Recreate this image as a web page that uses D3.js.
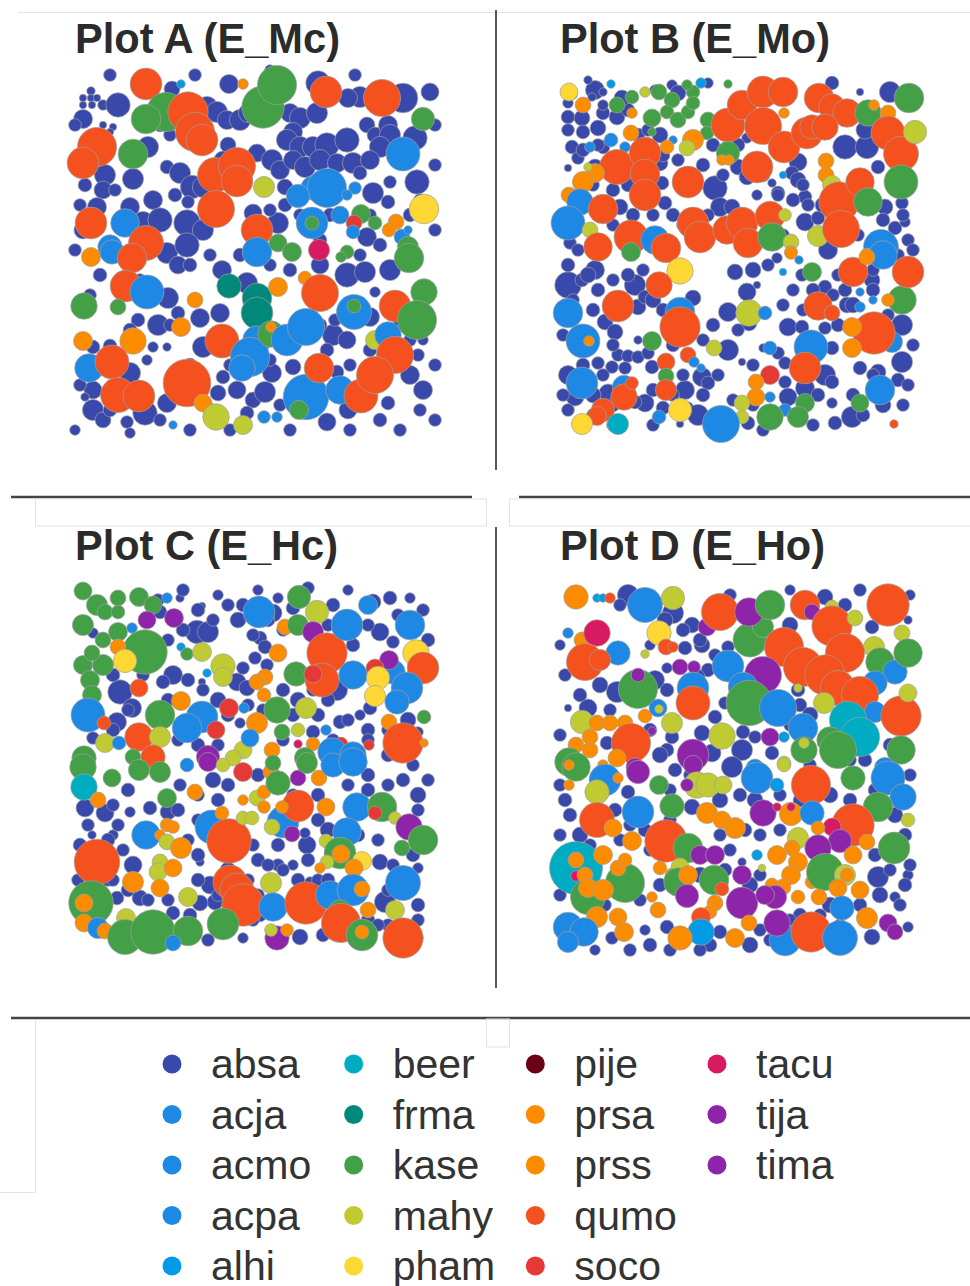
<!DOCTYPE html>
<html><head><meta charset="utf-8">
<script src="https://cdn.jsdelivr.net/npm/d3@7"></script>
<style>html,body{margin:0;padding:0;background:#fff}</style>
</head><body>
<svg id="chart" width="970" height="1286"></svg>
<script>
// Species and their map colours (legend order, column by column)
const species = ["absa","acja","acmo","acpa","alhi","beer","frma","kase","mahy","pham","pije","prsa","prss","qumo","soco","tacu","tija","tima"];
const speciesColors = ["#3949AB","#1E88E5","#1E88E5","#1E88E5","#039BE5","#00ACC1","#00897B","#43A047","#C0CA33","#FDD835","#6B0015","#FB8C00","#FB8C00","#F4511E","#E53935","#D81B60","#8E24AA","#8E24AA"];
const plotTitles = ["Plot A (E_Mc)","Plot B (E_Mo)","Plot C (E_Hc)","Plot D (E_Ho)"];

// Stem maps: positions in decimetres inside each plot, stem diameter (d)
// Abies (absa) understorey stems: [x, y, d]
const plotA_absa = [[159,19,18],[102,24,15],[248,18,23],[290,32,20],[278,33,18],[333,33,28],[360,27,17],[21,26,8],[13,33,7],[21,33,7],[27,33,7],[13,40,7],[22,40,7],[33,40,10],[48,40,23],[13,54,18],[137,42,20],[147,47,20],[157,55,18],[170,55,20],[178,48,18],[220,48,18],[230,53,20],[247,48,20],[223,67,18],[217,75,20],[230,82,20],[243,82,20],[257,80,23],[277,75,23],[297,60,15],[305,70,15],[318,60,18],[320,70,20],[310,82,20],[345,73,23],[78,82,20],[43,62,7],[33,60,7],[40,67,7],[35,110,20],[33,125,17],[63,114,20],[97,102,13],[110,108,20],[122,122,22],[133,122,20],[158,80,15],[153,95,17],[187,88,17],[202,95,20],[210,105,18],[223,95,18],[235,102,20],[250,95,20],[267,98,18],[283,98,20],[300,95,18],[290,108,13],[347,117,23],[320,117,12],[215,122,15],[303,128,20],[318,137,13],[60,142,18],[83,135,18],[105,130,13],[118,137,12],[27,142,18],[13,165,17],[73,157,20],[90,155,23],[117,158,25],[133,165,20],[208,158,20],[183,148,17],[297,172,18],[97,188,20],[117,180,23],[108,200,17],[98,233,20],[152,205,18],[177,218,20],[250,200,17],[277,210,23],[295,207,20],[320,205,20],[305,227,10],[300,252,18],[68,255,13],[88,260,20],[108,248,13],[130,253,18],[150,248,18],[133,282,20],[263,270,20],[277,275,17],[348,290,12],[353,275,10],[23,282,13],[40,281,13],[83,282,10],[97,282,8],[23,325,17],[23,345,20],[15,332,8],[60,308,20],[77,295,10],[75,348,23],[57,357,12],[33,355,15],[97,338,18],[153,312,13],[148,328,15],[167,325,17],[183,335,15],[202,308,18],[195,327,20],[223,302,15],[257,285,13],[267,307,13],[318,338,13],[340,310,18],[353,325,18],[257,357,17],[278,345,17],[177,348,13],[15,120,13],[10,140,12],[45,125,12],[90,60,13],[100,70,12],[200,145,12],[215,140,13],[230,150,12],[260,150,13],[300,150,12],[340,150,13],[350,135,12],[310,180,13],[290,190,12],[250,175,13],[120,200,13],[140,190,12],[170,190,13],[200,200,12],[220,205,13],[70,215,12],[30,210,13],[20,230,12],[100,260,12],[60,265,13],[120,300,13],[160,300,12],[200,295,12],[250,260,13],[265,255,12],[330,260,13],[340,275,12],[300,285,13],[280,300,12],[210,340,12],[140,345,13],[90,355,12],[40,345,13],[10,320,12],[15,300,13],[350,345,12],[310,355,13],[5,60,12],[5,185,12],[40,10,12],[125,10,12],[200,5,10],[285,10,12],[365,60,12],[365,100,12],[365,165,12],[365,300,12],[365,355,12],[5,365,10],[60,368,10],[120,365,12],[160,365,12],[220,365,12],[280,365,12],[330,365,12]];
const plotB_absa = [[42,15,18],[15,28,10],[15,42,13],[29,43,15],[15,55,12],[30,57,13],[45,53,15],[50,38,13],[64,42,15],[75,35,13],[19,72,13],[25,83,12],[15,93,7],[50,72,13],[39,22,8],[50,17,8],[102,15,10],[119,10,10],[125,18,15],[155,8,10],[69,23,15],[107,60,15],[194,63,10],[304,38,13],[337,17,20],[307,17,7],[279,8,13],[292,72,23],[314,72,22],[312,55,17],[185,92,15],[194,102,15],[245,87,17],[239,98,13],[107,88,15],[109,108,13],[42,92,15],[67,132,15],[112,128,13],[162,113,23],[167,132,18],[179,132,15],[204,120,10],[219,108,8],[225,118,13],[245,105,15],[252,122,13],[332,132,15],[349,128,12],[325,92,13],[252,147,17],[265,143,13],[275,175,18],[342,153,13],[355,165,12],[352,147,10],[17,168,12],[15,210,25],[29,205,13],[42,195,18],[82,210,20],[52,247,15],[85,232,15],[92,222,13],[140,223,15],[62,257,15],[85,265,8],[65,280,12],[75,281,12],[85,282,12],[95,278,12],[99,292,13],[72,293,12],[59,292,12],[45,288,12],[15,300,18],[22,322,17],[55,318,17],[92,328,17],[132,315,18],[149,302,18],[155,308,13],[135,332,10],[110,333,13],[127,349,7],[82,327,13],[175,275,20],[189,287,7],[175,237,18],[196,248,15],[182,197,15],[200,195,15],[194,217,17],[204,210,7],[224,183,10],[272,212,13],[249,200,12],[235,252,17],[249,252,13],[272,253,12],[279,273,13],[210,273,8],[225,278,12],[232,288,12],[272,300,20],[279,307,13],[232,307,12],[235,322,17],[252,313,18],[145,340,20],[195,348,13],[279,328,10],[282,348,13],[299,342,20],[307,293,13],[349,287,20],[325,297,15],[349,250,20],[294,230,15],[319,205,15],[292,215,13],[15,190,13],[25,175,12],[35,200,15],[45,215,13],[20,225,12],[40,235,13],[60,205,12],[75,200,13],[90,195,12],[100,225,15],[110,235,13],[60,270,12],[30,290,13],[50,300,12],[40,320,15],[60,330,13],[10,260,12],[240,215,12],[260,215,13],[280,220,12],[285,250,13],[300,230,15],[320,215,13],[335,240,12],[345,305,13],[330,330,15],[350,330,12],[300,320,13],[320,300,12],[265,320,13],[200,290,12],[150,320,13],[120,320,12],[100,315,13],[40,340,12],[225,120,12],[240,125,13],[255,130,12],[270,130,15],[160,70,13],[170,100,12],[185,70,13],[155,140,12],[130,150,12],[250,110,12],[210,100,13],[330,145,13],[305,160,12],[230,160,12],[350,140,12],[120,140,13],[100,140,12],[80,140,13],[60,150,12],[85,60,13],[95,55,12],[110,80,13],[125,85,12],[150,90,13],[75,110,13],[30,75,13],[45,70,12],[40,110,12],[60,115,13],[20,20,8],[35,5,8],[30,30,10],[50,30,10],[185,255,12],[160,250,13],[140,255,12],[150,265,12],[120,270,13],[60,240,12],[70,225,12],[215,190,12],[230,230,12],[250,235,12],[285,200,12],[320,195,12],[345,180,12],[360,175,12],[360,270,12],[355,310,12],[310,340,13],[260,350,12],[210,355,12],[180,325,12],[165,300,12],[130,300,12],[60,350,12],[15,335,12],[10,320,12],[100,350,12],[240,340,12],[200,330,12]];
const plotC_absa = [[112,18,8],[134,26,7],[92,32,13],[25,53,10],[129,52,22],[140,52,20],[105,95,18],[95,102,13],[134,102,7],[169,102,17],[179,108,15],[175,88,12],[205,33,17],[175,25,13],[210,18,10],[225,28,13],[192,58,13],[197,67,13],[187,78,12],[199,85,12],[265,25,13],[305,22,15],[322,18,13],[342,18,10],[312,52,17],[325,62,12],[285,65,13],[269,110,20],[292,135,10],[302,128,13],[272,142,13],[350,152,10],[52,112,23],[64,128,18],[49,142,18],[25,158,12],[225,135,13],[172,143,10],[245,152,13],[17,228,17],[37,233,17],[112,205,12],[100,232,15],[82,228,13],[62,232,10],[45,255,10],[24,255,8],[65,285,17],[132,282,8],[142,305,17],[147,322,15],[210,265,13],[239,265,17],[312,282,15],[350,288,10],[317,322,20],[350,358,10],[175,358,10],[232,357,15],[192,335,13],[132,323,15],[122,335,13],[12,265,13],[49,318,13],[72,318,15],[105,333,13],[242,302,10],[225,285,10],[237,253,10],[130,30,13],[145,40,12],[170,40,15],[185,55,12],[120,100,13],[135,110,12],[150,120,15],[160,135,13],[180,125,12],[200,40,13],[215,50,12],[175,190,13],[145,200,15],[130,215,12],[110,230,13],[150,220,13],[190,195,13],[230,235,12],[250,240,13],[260,250,15],[290,255,13],[310,260,12],[300,210,13],[320,205,12],[335,200,13],[350,215,15],[350,230,12],[340,140,15],[320,150,12],[300,150,13],[280,140,12],[260,120,13],[245,110,12],[230,120,15],[215,110,13],[160,290,15],[130,300,13],[150,315,12],[40,260,13],[50,245,12],[25,300,13],[40,300,12],[60,310,13],[80,320,12],[120,260,12],[190,280,13],[210,285,12],[230,300,13],[250,300,12],[260,300,13],[190,315,12],[300,340,13],[320,345,12],[350,325,13],[350,340,12],[90,20,12],[25,140,12],[45,150,13],[115,10,12],[150,15,10],[160,25,12],[190,10,10],[240,8,12],[280,10,10],[330,35,12],[355,30,12],[360,60,13],[300,45,12],[260,45,12],[100,60,12],[115,50,13],[90,80,12],[75,95,12],[45,95,13],[60,130,12],[100,120,13],[110,160,12],[130,165,13],[150,165,12],[195,130,12],[215,160,12],[250,135,13],[265,160,12],[300,160,12],[320,175,13],[345,185,12],[360,200,12],[300,195,13],[280,205,12],[250,215,13],[225,215,12],[160,205,13],[130,240,12],[60,210,13],[45,225,12],[20,245,12],[55,270,12],[130,275,13],[185,265,12],[215,290,12],[240,280,13],[325,285,12],[345,275,13],[320,310,12],[310,345,12],[255,355,13],[185,340,12],[140,360,12],[100,320,12],[45,300,12],[10,300,12],[180,300,12],[200,285,12]];
const plotD_absa = [[78,10,20],[123,28,20],[142,40,15],[275,12,15],[295,20,13],[358,35,8],[133,45,13],[152,60,15],[135,63,13],[178,62,12],[322,42,13],[158,85,13],[147,92,15],[117,83,10],[105,95,18],[67,107,20],[117,105,13],[248,105,13],[175,118,12],[165,132,13],[18,123,7],[38,123,17],[57,158,13],[122,152,13],[152,148,15],[193,147,13],[205,152,12],[117,165,13],[162,168,17],[192,165,20],[222,168,13],[182,182,17],[315,175,13],[15,215,13],[78,207,13],[182,182,20],[325,205,13],[142,222,15],[192,277,8],[328,292,20],[358,290,10],[345,312,10],[322,352,15],[95,345,10],[62,353,12],[117,342,13],[170,347,13],[358,342,10],[115,35,15],[150,55,13],[165,70,12],[100,60,10],[240,40,15],[250,120,13],[240,140,12],[260,130,15],[300,120,13],[320,150,15],[340,160,13],[30,110,13],[50,100,15],[60,125,12],[100,145,13],[110,170,15],[125,185,13],[140,190,12],[170,215,15],[190,210,13],[205,215,15],[230,210,12],[250,215,13],[280,210,15],[300,215,13],[345,230,15],[355,250,13],[20,230,13],[30,250,15],[40,260,12],[95,245,13],[100,265,12],[110,300,13],[150,290,15],[175,285,13],[200,300,15],[210,290,12],[250,330,13],[280,320,15],[310,320,13],[330,310,15],[350,320,12],[160,360,13],[200,360,15],[220,355,12],[100,360,13],[45,365,10],[120,205,12],[195,245,13],[210,250,12],[325,270,13],[340,285,12],[355,300,13],[65,225,13],[80,240,12],[10,60,10],[15,90,12],[10,150,12],[10,200,12],[10,250,12],[10,310,12],[70,20,12],[180,10,12],[240,5,10],[310,5,12],[360,10,10],[360,190,12],[360,280,12],[290,340,12],[270,330,12],[240,335,12],[210,345,12],[150,365,12],[120,365,12],[80,365,12],[55,320,12],[90,315,12],[180,265,12],[230,245,12],[260,180,12],[300,175,12],[170,250,12],[120,235,12],[70,255,12]];

// Canopy and other species: [species, x, y, d]
const plotA_other = [["qumo",76,19,30],["prsa",173,19,10],["alhi",111,19,8],["kase",193,42,40],["kase",207,20,37],["qumo",256,27,30],["qumo",312,33,35],["kase",353,54,22],["kase",96,47,37],["kase",76,54,28],["qumo",118,47,38],["qumo",125,67,37],["qumo",132,75,30],["acja",333,89,32],["qumo",27,82,37],["qumo",13,98,30],["kase",63,89,28],["qumo",145,110,33],["qumo",167,101,35],["qumo",167,116,30],["qumo",146,144,35],["mahy",194,122,20],["acja",243,123,23],["acja",257,123,37],["acja",228,131,22],["acja",285,123,12],["acja",277,130,10],["pham",354,144,28],["qumo",21,158,30],["acja",55,158,27],["qumo",187,165,30],["acja",242,158,30],["kase",242,158,13],["acja",270,150,17],["kase",291,149,18],["soco",284,158,15],["kase",305,158,13],["acja",283,167,13],["prsa",326,157,15],["prsa",319,165,13],["acja",332,172,15],["acja",338,165,8],["kase",338,182,20],["tacu",249,185,20],["acja",40,182,23],["qumo",76,178,33],["acja",187,187,28],["kase",208,178,17],["kase",222,187,18],["kase",277,187,13],["kase",271,192,10],["prsa",21,192,18],["acja",42,187,23],["qumo",62,193,28],["qumo",56,221,30],["acja",77,227,32],["kase",14,241,25],["kase",48,242,15],["prsa",125,235,15],["frma",159,221,23],["frma",187,233,28],["frma",187,248,30],["prsa",208,222,18],["prsa",235,213,13],["qumo",250,228,35],["kase",339,193,28],["kase",354,227,25],["acja",284,247,33],["kase",284,241,13],["qumo",325,241,30],["kase",347,255,37],["prsa",111,262,18],["qumo",152,276,32],["acja",187,275,27],["acja",180,292,37],["acja",172,303,25],["kase",201,269,25],["prsa",201,262,10],["acja",217,275,30],["acja",236,262,35],["mahy",305,275,18],["acja",318,270,25],["qumo",325,290,35],["prsa",13,276,18],["prsa",63,276,25],["acja",19,303,27],["qumo",42,297,32],["qumo",48,330,33],["qumo",69,331,30],["qumo",117,318,45],["prsa",133,338,17],["mahy",146,352,25],["mahy",173,360,18],["acja",194,352,12],["acja",207,352,10],["acja",103,360,8],["acja",236,332,43],["kase",229,345,18],["qumo",249,303,28],["acja",270,325,27],["qumo",291,331,32],["qumo",305,310,35]];
const plotB_other = [["pham",16,17,17],["alhi",58,9,8],["prsa",30,30,15],["kase",64,30,15],["kase",79,22,13],["mahy",92,17,10],["kase",106,17,15],["kase",140,17,13],["kase",134,10,10],["alhi",148,8,10],["kase",175,9,8],["kase",119,25,15],["kase",99,43,17],["kase",114,37,13],["kase",125,45,15],["kase",135,37,13],["kase",140,28,13],["kase",155,45,15],["kase",154,58,13],["prsa",79,38,10],["kase",99,57,8],["prsa",78,58,15],["acja",58,65,13],["acja",37,72,10],["acja",72,72,10],["acja",120,65,8],["prsa",140,65,20],["mahy",134,73,15],["prsa",114,72,13],["qumo",175,50,32],["qumo",189,30,28],["qumo",210,17,30],["qumo",230,17,28],["qumo",210,51,35],["qumo",231,72,30],["qumo",266,23,28],["qumo",279,32,25],["qumo",294,38,27],["qumo",254,58,30],["qumo",259,52,23],["qumo",272,52,25],["prsa",231,38,10],["kase",315,38,25],["prsa",321,30,10],["prsa",335,38,15],["kase",356,23,28],["qumo",335,58,32],["qumo",348,79,33],["mahy",362,57,22],["kase",348,107,32],["kase",175,78,22],["prsa",169,85,10],["prsa",176,85,10],["qumo",204,92,30],["prsa",273,86,15],["prsa",273,100,15],["alhi",230,100,7],["qumo",64,92,33],["qumo",92,78,30],["qumo",92,99,28],["qumo",92,120,30],["qumo",135,107,30],["prsa",42,98,18],["prsa",30,107,20],["mahy",35,92,8],["prsa",16,120,15],["acja",27,127,25],["acja",15,148,32],["qumo",50,134,28],["mahy",279,110,18],["qumo",286,127,38],["qumo",307,107,27],["kase",315,127,27],["qumo",140,148,30],["qumo",147,162,30],["qumo",174,155,27],["qumo",189,148,30],["qumo",217,141,28],["qumo",195,168,28],["kase",219,162,27],["mahy",232,140,12],["mahy",238,167,15],["prsa",238,177,12],["mahy",265,161,20],["qumo",288,154,35],["acja",328,172,33],["prsa",314,180,13],["mahy",37,155,15],["qumo",45,172,27],["qumo",78,162,32],["acja",102,165,27],["qumo",113,173,28],["kase",78,177,18],["pham",127,196,25],["qumo",106,210,25],["acja",15,238,28],["qumo",65,231,30],["acja",127,237,28],["qumo",127,252,38],["acja",30,266,32],["prsa",36,266,10],["kase",99,266,18],["qumo",113,287,17],["qumo",135,280,15],["acja",141,287,10],["acja",148,293,8],["kase",113,301,15],["qumo",113,315,20],["acja",29,308,30],["acja",71,312,22],["qumo",71,322,25],["qumo",79,308,12],["pham",127,335,22],["acja",106,342,13],["qumo",50,335,22],["qumo",44,341,18],["pham",29,349,20],["beer",65,349,20],["mahy",161,273,15],["mahy",196,238,25],["acja",212,238,13],["prsa",238,178,12],["acja",246,185,8],["alhi",230,197,7],["kase",259,197,18],["qumo",265,231,27],["qumo",279,238,15],["acja",258,272,32],["acja",217,273,13],["qumo",252,293,30],["soco",217,300,18],["prsa",203,307,15],["prsa",203,322,17],["acja",217,322,10],["kase",252,328,18],["acja",232,335,12],["kase",217,342,25],["kase",245,342,20],["mahy",189,328,15],["mahy",189,342,13],["acja",168,349,35],["kase",307,328,17],["acja",327,315,28],["qumo",341,349,8],["acja",339,267,20],["qumo",321,258,40],["prsa",299,252,18],["prsa",299,273,18],["kase",349,225,27],["prsa",335,225,12],["acja",320,225,8],["acja",307,217,8],["acja",307,232,10],["qumo",300,197,28],["qumo",355,197,30],["acja",330,180,27],["prsa",314,182,15]];
const plotC_other = [["kase",15,11,17],["kase",29,25,20],["kase",50,18,15],["kase",71,17,18],["kase",85,25,17],["kase",37,32,15],["kase",50,32,13],["kase",15,45,20],["kase",35,60,15],["kase",50,52,18],["tija",79,40,17],["tija",106,38,18],["acja",99,18,10],["acja",64,48,10],["kase",77,72,42],["prsa",50,67,15],["pham",57,81,22],["kase",15,85,18],["kase",35,85,20],["kase",24,73,15],["kase",22,100,18],["kase",24,115,18],["qumo",71,108,17],["alhi",113,67,8],["kase",119,74,12],["mahy",134,72,18],["mahy",155,86,23],["mahy",155,97,18],["alhi",139,93,8],["acja",191,32,30],["kase",231,17,22],["mahy",249,32,22],["prsa",217,47,15],["kase",230,45,20],["tija",245,52,20],["prsa",210,73,17],["kase",228,94,23],["qumo",259,73,38],["qumo",254,100,32],["soco",245,94,17],["prsa",197,97,15],["prsa",189,102,15],["prsa",196,115,13],["acja",279,45,30],["acja",300,25,18],["acja",342,45,28],["acja",325,92,23],["acja",285,95,27],["pham",348,73,25],["qumo",355,88,30],["tija",321,80,18],["soco",307,88,17],["pham",310,98,22],["pham",307,116,20],["acja",339,108,30],["acja",329,122,23],["kase",356,137,13],["prsa",321,142,15],["qumo",335,163,38],["acja",20,135,32],["kase",92,135,28],["prsa",113,121,18],["acja",134,137,30],["acja",119,148,28],["soco",161,128,18],["soco",148,150,17],["acja",176,128,10],["kase",209,130,25],["mahy",238,128,20],["prsa",189,143,20],["acja",258,150,10],["qumo",36,143,13],["qumo",71,157,27],["mahy",92,157,20],["mahy",37,163,18],["acja",51,163,13],["kase",16,178,23],["qumo",85,177,23],["tija",140,177,22],["kase",65,177,15],["prsa",204,170,15],["tacu",230,164,8],["prsa",245,164,13],["soco",273,164,13],["acja",264,172,27],["acja",285,175,25],["kase",237,178,20],["mahy",175,170,17],["mahy",165,178,15],["kase",214,152,15],["mahy",230,150,13],["acja",182,158,17],["soco",301,165,10],["prsa",356,163,8],["kase",15,187,25],["beer",16,207,25],["prsa",30,220,15],["kase",44,198,17],["kase",71,190,20],["kase",92,192,20],["acja",119,185,13],["prsa",127,212,15],["kase",99,218,18],["acja",78,255,27],["prsa",99,245,13],["prsa",105,247,12],["prsa",92,255,10],["mahy",99,262,15],["prsa",113,268,20],["qumo",29,282,43],["mahy",92,282,15],["mahy",90,292,17],["prsa",105,288,17],["prsa",65,302,20],["prsa",92,308,17],["mahy",120,317,18],["acja",144,247,32],["qumo",161,261,42],["prsa",154,233,13],["mahy",175,238,13],["mahy",184,238,13],["tija",140,182,18],["soco",175,192,18],["mahy",155,185,13],["prsa",203,192,15],["mahy",189,218,15],["prsa",196,212,13],["prsa",196,227,12],["prsa",175,220,10],["kase",210,203,23],["kase",205,183,15],["tija",230,198,15],["prsa",251,198,15],["kase",239,183,20],["acja",265,185,23],["acja",285,182,27],["acja",215,242,30],["qumo",230,226,30],["prsa",214,227,12],["mahy",204,247,15],["tija",224,254,15],["prsa",258,227,17],["acja",289,227,27],["kase",314,227,28],["soco",307,233,13],["mahy",327,238,12],["tija",341,247,25],["kase",355,260,28],["kase",334,268,15],["acja",279,252,27],["mahy",258,261,13],["kase",272,273,30],["prsa",273,274,17],["mahy",259,282,13],["pham",294,281,18],["prsa",286,288,17],["prsa",252,288,10],["acja",335,303,33],["qumo",162,302,32],["qumo",169,310,32],["qumo",175,325,40],["mahy",203,303,20],["acja",205,327,27],["qumo",238,323,40],["acja",262,315,27],["acja",285,310,30],["prsa",294,309,15],["prsa",300,330,15],["kase",272,332,23],["qumo",273,343,37],["kase",294,355,30],["prsa",294,352,13],["mahy",327,330,18],["qumo",335,358,38],["kase",23,323,42],["prsa",16,323,17],["prsa",16,343,17],["mahy",58,338,18],["acja",30,348,20],["prsa",37,351,15],["kase",57,357,33],["kase",85,352,42],["kase",120,351,28],["kase",155,344,30],["acja",105,363,15],["tija",209,358,23],["mahy",203,350,12],["prsa",219,350,12]];
const plotD_other = [["prsa",26,12,23],["alhi",47,13,8],["alhi",53,13,8],["qumo",60,13,10],["acja",95,20,33],["mahy",123,13,22],["tija",157,42,17],["qumo",170,27,35],["kase",200,55,32],["kase",213,42,20],["tija",199,27,27],["kase",220,20,28],["qumo",255,20,28],["tija",262,27,15],["mahy",282,22,13],["qumo",338,20,40],["acja",18,48,10],["prsa",32,55,15],["tacu",47,48,25],["pham",109,48,23],["acja",68,68,23],["qumo",35,77,35],["qumo",50,75,20],["qumo",116,62,15],["qumo",123,62,10],["mahy",95,69,8],["qumo",234,62,37],["qumo",282,41,38],["mahy",305,33,15],["mahy",352,48,15],["mahy",324,62,20],["kase",330,77,27],["acja",345,87,23],["kase",358,68,27],["qumo",295,68,37],["qumo",253,82,37],["qumo",275,90,38],["acja",325,98,23],["qumo",288,103,33],["qumo",310,110,35],["acja",178,81,30],["tija",213,90,35],["acja",193,102,28],["tija",130,82,15],["tija",144,82,12],["acja",143,103,30],["kase",88,104,37],["tija",88,90,13],["qumo",143,118,32],["kase",199,118,43],["acja",228,123,35],["mahy",248,103,8],["mahy",274,118,20],["acja",325,127,20],["beer",298,135,35],["beer",310,152,37],["qumo",351,131,38],["mahy",358,108,17],["acja",253,143,28],["kase",254,165,25],["mahy",254,158,10],["kase",280,155,25],["kase",288,165,35],["kase",351,165,27],["mahy",32,137,22],["prsa",47,138,15],["prsa",60,138,15],["prsa",75,138,15],["prsa",95,131,13],["acja",108,123,17],["mahy",109,124,8],["mahy",122,138,20],["prsa",40,152,15],["prsa",26,160,15],["prsa",40,165,15],["qumo",81,158,37],["tija",102,146,8],["mahy",172,151,25],["tija",220,152,17],["alhi",234,152,10],["kase",19,177,27],["prsa",19,179,12],["prsa",67,173,17],["tija",143,170,30],["acja",205,183,17],["mahy",234,178,13],["tija",85,182,17],["acja",335,183,20],["kase",26,182,27],["prsa",19,180,10],["prsa",53,180,10],["tija",88,187,22],["prsa",19,200,10],["acja",55,195,30],["prsa",68,193,10],["mahy",47,207,23],["kase",109,200,18],["tija",143,180,18],["mahy",147,200,25],["mahy",158,200,23],["mahy",173,200,17],["tija",137,200,12],["acja",207,193,30],["alhi",227,200,13],["mahy",234,180,13],["qumo",261,200,37],["kase",303,193,23],["acja",338,193,32],["acja",353,212,25],["qumo",47,235,33],["prsa",63,243,17],["acja",88,227,30],["kase",122,221,23],["prsa",157,228,20],["prsa",172,235,17],["prsa",185,243,20],["tija",213,228,25],["prsa",241,229,22],["tacu",241,222,8],["tacu",227,222,8],["acja",262,228,23],["kase",328,222,28],["qumo",303,240,40],["tacu",282,242,17],["tija",290,256,22],["prsa",317,257,15],["prsa",268,243,13],["mahy",358,235,13],["kase",344,263,30],["qumo",116,256,40],["kase",138,263,28],["prsa",82,256,18],["tija",150,270,18],["tija",165,270,18],["alhi",207,270,10],["mahy",248,253,20],["prsa",242,263,15],["tija",268,263,25],["prsa",227,270,18],["prsa",248,277,18],["prsa",303,270,17],["beer",26,283,50],["kase",75,298,37],["kase",38,312,33],["prsa",26,275,15],["tacu",26,291,10],["prsa",35,290,15],["prsa",53,270,18],["prsa",68,283,15],["prsa",75,275,13],["prsa",38,303,18],["prsa",53,305,20],["prsa",110,283,13],["prsa",122,290,13],["mahy",130,282,17],["kase",128,297,27],["prsa",138,290,18],["tija",137,311,22],["kase",164,295,28],["qumo",172,304,13],["mahy",212,283,7],["tija",192,290,18],["prsa",241,290,18],["prsa",233,302,15],["prsa",222,300,13],["prsa",262,297,13],["kase",275,287,35],["mahy",295,290,20],["prsa",297,290,13],["prsa",288,303,17],["prsa",310,305,17],["prsa",102,312,10],["tija",192,318,30],["tija",225,312,22],["tija",215,310,18],["prsa",248,312,13],["prsa",269,312,15],["prsa",165,318,15],["prsa",160,327,13],["acja",292,323,23],["prsa",47,332,20],["prsa",68,332,17],["prsa",74,347,18],["prsa",108,325,15],["qumo",151,332,18],["acja",18,342,28],["acja",34,347,27],["acja",18,357,20],["alhi",151,347,25],["prsa",130,353,23],["prsa",185,353,18],["prsa",199,338,15],["acja",235,355,30],["tija",227,338,25],["qumo",261,347,38],["acja",290,353,33],["prsa",317,333,20],["tija",338,338,17],["tija",345,347,15]];

const svg = d3.select("#chart");
const color = d3.scaleOrdinal().domain(species).range(speciesColors);
const rScale = d3.scaleLinear().domain([0, 50]).range([0, 26.5]);

// Frame lines between the four maps
const frame = svg.append("g");
frame.append("line").attr("x1", 18).attr("x2", 970).attr("y1", 12.5).attr("y2", 12.5).attr("stroke", "#e6e6e6").attr("stroke-width", 1);
[[10, 470], [527, 988]].forEach(([a, b]) =>
  frame.append("line").attr("x1", 496).attr("x2", 496).attr("y1", a).attr("y2", b).attr("stroke", "#222").attr("stroke-width", 1.5));
[[11, 472, 497], [519, 970, 497], [11, 970, 1018]].forEach(([a, b, y]) =>
  frame.append("line").attr("x1", a).attr("x2", b).attr("y1", y).attr("y2", y).attr("stroke", "#444").attr("stroke-width", 2.5));
[[35.5, 499, 451, 27], [509.5, 499, 461, 27], [486.5, 1019, 23, 28]].forEach(([x, y, w, h]) =>
  frame.append("rect").attr("x", x).attr("y", y).attr("width", w).attr("height", h).attr("fill", "none").attr("stroke", "#e3e3e3").attr("stroke-width", 1));
frame.append("line").attr("x1", 35.5).attr("x2", 35.5).attr("y1", 1020).attr("y2", 1192).attr("stroke", "#e3e3e3");
frame.append("line").attr("x1", 0).attr("x2", 35.5).attr("y1", 1192.5).attr("y2", 1192.5).attr("stroke", "#e3e3e3");

// Four stem maps
const panels = [
  {title: plotTitles[0], tx: 75, ty: 53, tw: 265, x0: 70, y0: 65, absa: plotA_absa, other: plotA_other},
  {title: plotTitles[1], tx: 560, ty: 53, tw: 270, x0: 553, y0: 75, absa: plotB_absa, other: plotB_other},
  {title: plotTitles[2], tx: 75, ty: 560, tw: 263, x0: 68, y0: 580, absa: plotC_absa, other: plotC_other},
  {title: plotTitles[3], tx: 560, ty: 560, tw: 265, x0: 550, y0: 585, absa: plotD_absa, other: plotD_other}
];

panels.forEach(p => {
  const x = d3.scaleLinear().domain([0, 370]).range([p.x0, p.x0 + 370]);
  const y = d3.scaleLinear().domain([0, 370]).range([p.y0, p.y0 + 370]);
  const stems = p.absa.map(([sx, sy, d]) => ({sp: "absa", sx, sy, d}))
    .concat(p.other.map(([sp, sx, sy, d]) => ({sp, sx, sy, d})));
  const g = svg.append("g");
  g.selectAll("circle").data(stems).join("circle")
    .attr("cx", d => x(d.sx))
    .attr("cy", d => y(d.sy))
    .attr("r", d => rScale(d.d))
    .attr("fill", d => color(d.sp))
    .attr("stroke", "#a0a0a0")
    .attr("stroke-width", 0.7);
  svg.append("text")
    .attr("x", p.tx).attr("y", p.ty)
    .attr("textLength", p.tw).attr("lengthAdjust", "spacingAndGlyphs")
    .attr("font-family", "'Liberation Sans Narrow','Arial Narrow','Liberation Sans',Arial,sans-serif")
    .attr("font-weight", 700).attr("font-size", 42).attr("fill", "#2b2b2b")
    .text(p.title);
});

// Legend, four columns of up to five species
const colX = d3.scalePoint().domain([0, 1, 2, 3]).range([172, 717]);
const rowY = d3.scalePoint().domain([0, 1, 2, 3, 4]).range([1064, 1266]);
const legend = svg.append("g").selectAll("g").data(species).join("g")
  .attr("transform", (d, i) => `translate(${colX(Math.floor(i / 5))},${rowY(i % 5)})`);
legend.append("circle").attr("r", 9.5).attr("fill", d => color(d));
legend.append("text").attr("x", 39).attr("y", 14)
  .attr("font-family", "'Liberation Sans',Arial,sans-serif").attr("font-size", 41).attr("fill", "#333")
  .text(d => d);
</script>
</body></html>
